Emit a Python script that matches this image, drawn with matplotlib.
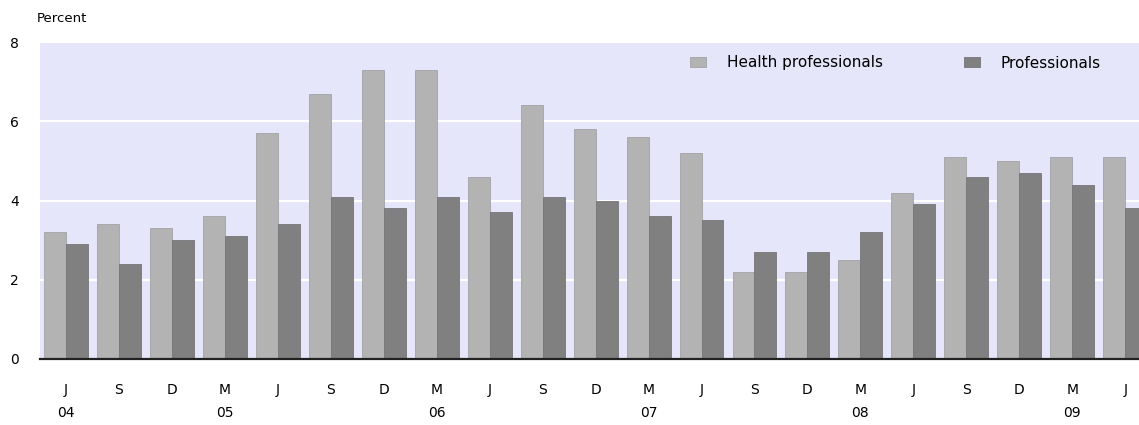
import numpy as np
import matplotlib
matplotlib.use("Agg")
from matplotlib import pyplot as plt

# quarter labels and year labels under them
months = ["J", "S", "D", "M", "J", "S", "D", "M", "J", "S", "D",
          "M", "J", "S", "D", "M", "J", "S", "D", "M", "J"]
years = ["04", "", "", "05", "", "", "", "06", "", "", "",
         "07", "", "", "", "08", "", "", "", "09", ""]

# percent values
health = [3.2, 3.4, 3.3, 3.6, 5.7, 6.7, 7.3, 7.3, 4.6, 6.4, 5.8,
          5.6, 5.2, 2.2, 2.2, 2.5, 4.2, 5.1, 5.0, 5.1, 5.1]
profs = [2.9, 2.4, 3.0, 3.1, 3.4, 4.1, 3.8, 4.1, 3.7, 4.1, 4.0,
         3.6, 3.5, 2.7, 2.7, 3.2, 3.9, 4.6, 4.7, 4.4, 3.8]

plt.rcParams['font.family'] = ['DejaVu Sans']
fs = 10

W, H = 1139, 425
fig = plt.figure(figsize=(W / 100, H / 100), dpi=100)
ax = fig.add_axes([40 / W, (H - 359) / H, (W - 40) / W, (359 - 42) / H])
ax.set_facecolor("#E6E6FA")

x = np.arange(len(months))
bw = 0.415
ax.bar(x - bw / 2, health, bw, color="#B3B3B3", edgecolor="#A2A2A8",
       linewidth=0.6, label="Health professionals", zorder=3)
ax.bar(x + bw / 2, profs, bw, color="#808080", edgecolor="#75757A",
       linewidth=0.6, label="Professionals", zorder=3)

ax.set_xlim(-0.49, 20.26)
ax.set_ylim(0, 8)
ax.set_yticks([0, 2, 4, 6, 8])
ax.yaxis.grid(True, color="white", linewidth=1.5, zorder=1)

for s in ["top", "right", "left"]:
    ax.spines[s].set_visible(False)
ax.spines["bottom"].set_linewidth(1.6)
ax.spines["bottom"].set_color("#222222")
ax.spines["bottom"].set_zorder(4)

ax.set_xticks(x)
ax.set_xticklabels([m + "\n" + y for m, y in zip(months, years)])
for lab in ax.get_xticklabels():
    lab.set_linespacing(1.85)
    lab.set_verticalalignment("top")
ax.tick_params(axis="x", length=0, pad=17, labelsize=fs)
ax.tick_params(axis="y", length=0, pad=15, labelsize=fs)

fig.text(37 / W, 1 - 18 / H, "Percent", fontsize=fs - 0.5, ha="left", va="center")

ax.legend(loc="center right", bbox_to_anchor=(1 - 38 / 1099, 1 - 21 / 317),
          ncol=2, frameon=False, fontsize=fs + 1, handlelength=1.05,
          handleheight=0.65, handletextpad=1.37, columnspacing=5.3,
          borderaxespad=0, borderpad=0)

fig.savefig("out.png", dpi=100)
